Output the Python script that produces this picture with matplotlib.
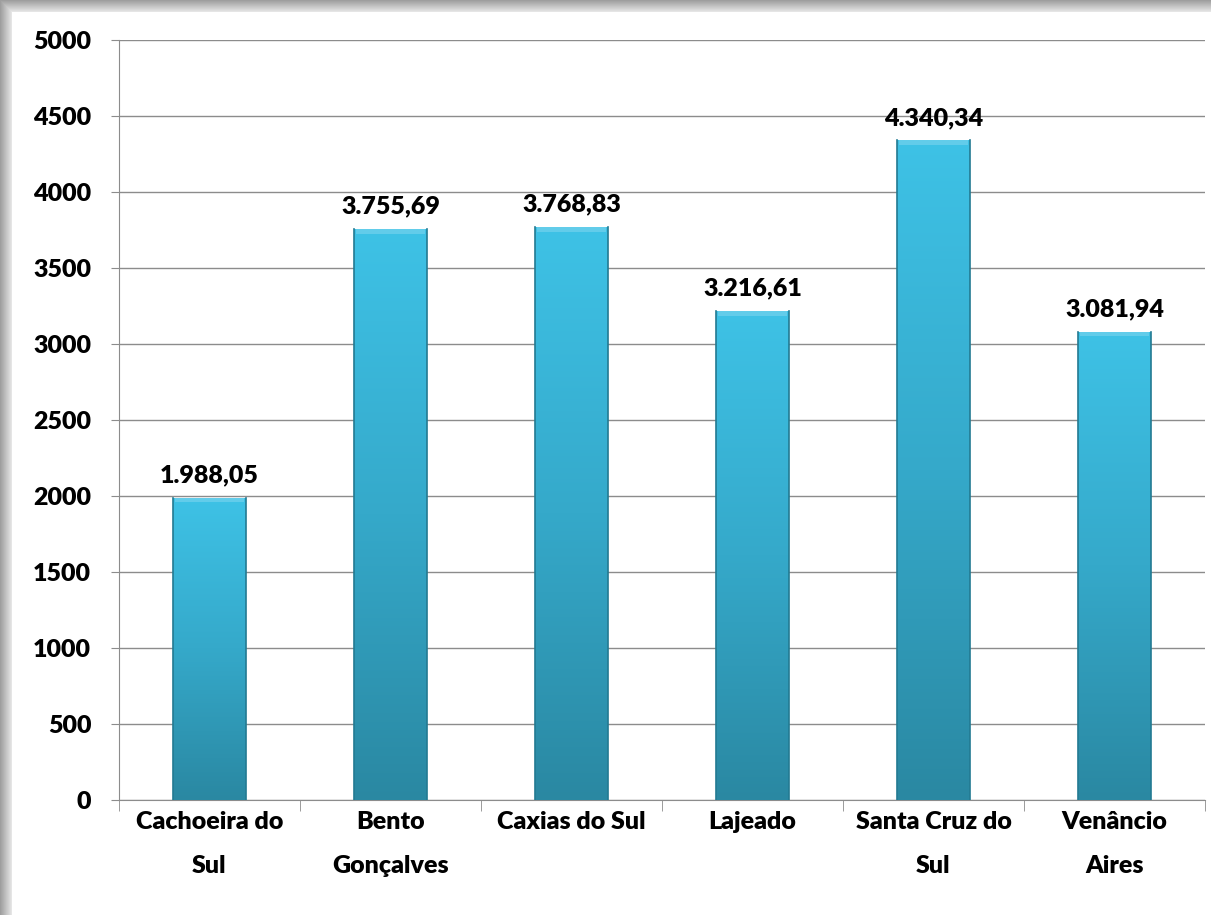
import numpy as np
import matplotlib
matplotlib.use("Agg")
import matplotlib.pyplot as plt
from matplotlib.colors import LinearSegmentedColormap

cidades = ["Cachoeira do\nSul", "Bento\nGonçalves", "Caxias do Sul",
           "Lajeado", "Santa Cruz do\nSul", "Venâncio\nAires"]
valores = [1988.05, 3755.69, 3768.83, 3216.61, 4340.34, 3081.94]
rotulos = ["1.988,05", "3.755,69", "3.768,83", "3.216,61", "4.340,34", "3.081,94"]
yticks = [0, 500, 1000, 1500, 2000, 2500, 3000, 3500, 4000, 4500, 5000]

plt.rcParams['font.family'] = ['Lato', 'DejaVu Sans']
PESO = "heavy"

fig = plt.figure(figsize=(12.11, 9.15), dpi=100)
fig.patch.set_facecolor("white")

# grey frame shadow on top and left edges
bg = fig.add_axes([0, 0, 1, 1], zorder=-10)
H, W = 915, 1211
yy, xx = np.mgrid[0:H, 0:W]
d = np.minimum(yy / 12.0, xx / 12.0)
shade = np.where(d < 1, 0.62 + 0.3 * d, 1.0)
shade = np.clip(shade, 0, 1)
bg.imshow(shade, cmap="gray", vmin=0, vmax=1, aspect="auto",
          extent=[0, W, H, 0], interpolation="bilinear")
bg.axis("off")

ax = fig.add_axes([119 / 1211, 1 - 800 / 915, 1086 / 1211, 760 / 915])
ax.set_facecolor("none")

x = np.arange(len(cidades))
w = 0.4
cmap = LinearSegmentedColormap.from_list("barra", ["#2A88A2", "#35A9CA", "#3EC2E6"])
grad = np.linspace(0, 1, 256).reshape(-1, 1)

for xi, v in zip(x, valores):
    bar = ax.bar(xi, v, width=w, color="none", edgecolor="none", zorder=3)[0]
    im = ax.imshow(grad, cmap=cmap, origin="lower", aspect="auto",
                   extent=[xi - w / 2, xi + w / 2, 0, v], zorder=3)
    im.set_clip_path(bar)
    # darker sides
    ax.plot([xi - w / 2, xi - w / 2], [0, v], color="#237A92", lw=1.2, zorder=4)
    ax.plot([xi + w / 2, xi + w / 2], [0, v], color="#237A92", lw=1.2, zorder=4)
    # soft highlight on top
    ax.fill_between([xi - w / 2 + 0.01, xi + w / 2 - 0.01], v - 30, v,
                    color="#6CD0EC", zorder=4, lw=0, alpha=0.8)

for xi, v, r in zip(x, valores, rotulos):
    ax.text(xi, v + 75, r, ha="center", va="bottom", fontsize=18,
            fontweight=PESO, color="black")

ax.set_xlim(-0.5, len(cidades) - 0.5)
ax.set_ylim(0, 5000)
ax.set_yticks(yticks)
ax.set_yticklabels([str(t) for t in yticks], fontsize=18, fontweight=PESO)
ax.yaxis.grid(True, color="#8C8C8C", lw=1)
ax.set_axisbelow(True)

ax.set_xticks(x)
ax.set_xticklabels(cidades, fontsize=18, fontweight=PESO, linespacing=2.2)
ax.set_xticks(np.arange(-0.5, len(cidades), 1), minor=True)
ax.tick_params(axis="x", which="major", length=0, pad=8)
ax.tick_params(axis="x", which="minor", length=8, color="#8C8C8C")
ax.tick_params(axis="y", length=6, color="#8C8C8C", pad=14)

for s in ["top", "right"]:
    ax.spines[s].set_visible(False)
ax.spines["left"].set_color("#8C8C8C")
ax.spines["bottom"].set_color("#8C8C8C")

fig.savefig("out.png", dpi=100)
